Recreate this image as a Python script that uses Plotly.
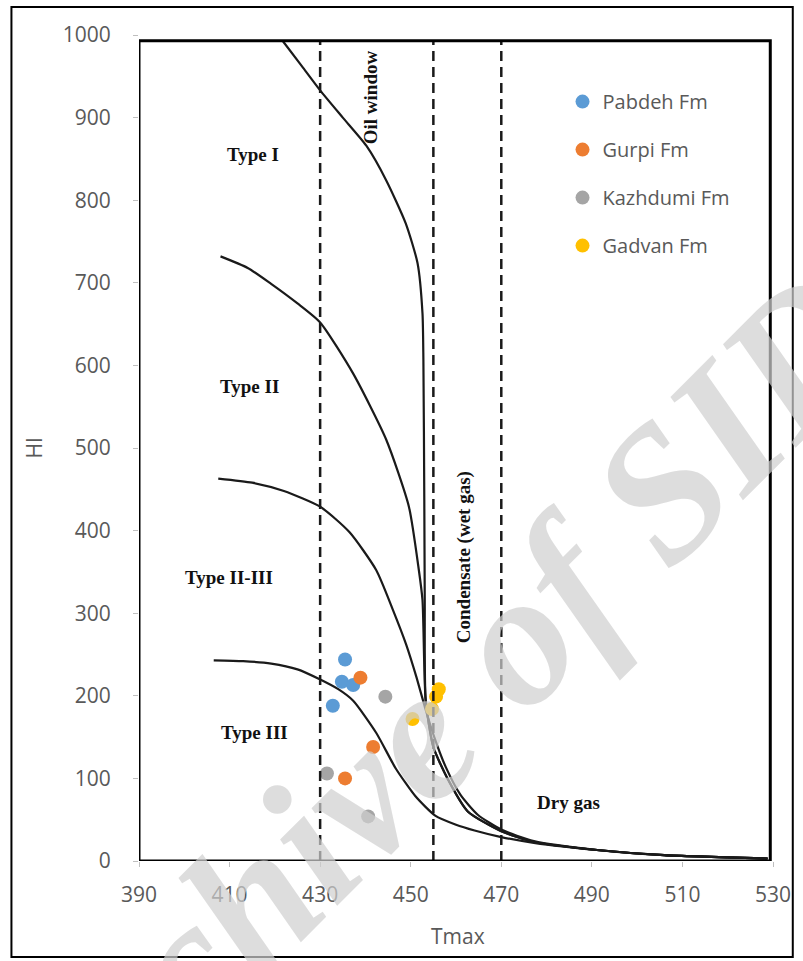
import plotly.graph_objects as go

# Kerogen-type boundary curves (Tmax, HI)
type1_tmax = [421.7, 426.0, 430.0, 435.0, 440.2, 444.6, 448.9, 451.5, 452.6, 452.8, 453.0, 453.1, 453.3, 455.0, 458.3, 462.6, 470.0, 477.2, 491.7, 506.0, 528.8]
type1_hi = [993, 962, 933, 900, 866, 824, 772, 724, 663, 607, 437, 316, 195, 138, 98, 60, 36, 23, 13, 7, 3]

type2_tmax = [408.0, 414.0, 419.1, 425.0, 430.0, 437.3, 444.6, 449.6, 451.8, 452.6, 453.3, 455.0, 458.3, 462.6, 470.0, 477.2, 491.7, 506.0, 528.8]
type2_hi = [732, 718, 699, 675, 652, 590, 510, 429, 352, 316, 195, 138, 98, 60, 36, 23, 13, 7, 3]

type23_tmax = [407.5, 415.0, 422.0, 430.0, 436.5, 442.4, 446.0, 449.0, 451.3, 453.2, 455.2, 457.8, 461.0, 464.8, 470.0, 477.2, 491.7, 506.0, 528.8]
type23_hi = [463, 458, 448, 429, 398, 352, 305, 262, 222, 185, 150, 113, 80, 56, 38, 24, 13, 7, 3]

type3_tmax = [406.5, 413.0, 419.2, 425.0, 429.9, 434.0, 437.3, 442.4, 446.7, 451.1, 455.4, 460.0, 464.1, 470.0, 477.2, 491.7, 506.0, 528.8]
type3_hi = [243, 242, 239, 232, 220, 208, 194, 155, 112, 78, 55, 44, 37, 29, 22, 13, 7, 3]

# Maturity boundaries (Tmax)
zone_limits = [430, 455, 470]

# Samples by formation
pabdeh_tmax = [435.5, 434.8, 437.3, 432.8]
pabdeh_hi = [244, 217, 213, 188]
gurpi_tmax = [438.9, 441.7, 435.5]
gurpi_hi = [222, 138, 100]
kazhdumi_tmax = [444.4, 431.5, 440.6]
kazhdumi_hi = [199, 106, 54]
gadvan_tmax = [450.4, 454.7, 455.6, 456.2]
gadvan_hi = [172, 184, 199, 208]

x_ticks = [390, 410, 430, 450, 470, 490, 510, 530]
y_ticks = [0, 100, 200, 300, 400, 500, 600, 700, 800, 900, 1000]

fig = go.Figure()

for xs, ys in [(type1_tmax, type1_hi), (type2_tmax, type2_hi),
               (type23_tmax, type23_hi), (type3_tmax, type3_hi)]:
    fig.add_trace(go.Scatter(x=xs, y=ys, mode="lines", showlegend=False,
                             hoverinfo="skip",
                             line=dict(color="#1a1a1a", width=2.2, shape="spline", smoothing=0.6)))

series = [
    ("Pabdeh Fm", pabdeh_tmax, pabdeh_hi, "#5B9BD5"),
    ("Gurpi Fm", gurpi_tmax, gurpi_hi, "#ED7D31"),
    ("Kazhdumi Fm", kazhdumi_tmax, kazhdumi_hi, "#A5A5A5"),
    ("Gadvan Fm", gadvan_tmax, gadvan_hi, "#FFC000"),
]
for name, xs, ys, col in series:
    fig.add_trace(go.Scatter(x=xs, y=ys, mode="markers", name=name, legendgroup=name,
                             marker=dict(color=col, size=14, line=dict(width=0))))

shapes = []
for t in zone_limits:
    shapes.append(dict(type="line", xref="x", yref="y", x0=t, x1=t, y0=0, y1=993,
                       line=dict(color="#1a1a1a", width=2.5, dash="10px,6px")))
# plot frame
shapes.append(dict(type="rect", xref="x", yref="y", x0=390, x1=529.4, y0=0, y1=993,
                   line=dict(color="black", width=3)))
# outer border
shapes.append(dict(type="rect", xref="paper", yref="paper", x0=-0.2012, x1=1.0312,
                   y0=-0.1162, y1=1.0339, line=dict(color="black", width=2)))

serif = dict(family="Liberation Serif", size=19, color="#111111")
annotations = [
    dict(x=415.2, y=855, text="<b>Type I</b>"),
    dict(x=414.3, y=574, text="<b>Type II</b>"),
    dict(x=409.8, y=343, text="<b>Type II-III</b>"),
    dict(x=415.4, y=155, text="<b>Type III</b>"),
    dict(x=484.8, y=71, text="<b>Dry gas</b>"),
    dict(x=441.3, y=925, text="<b>Oil window</b>", textangle=-90),
    dict(x=461.8, y=368, text="<b>Condensate (wet gas)</b>", textangle=-90),
]
for a in annotations:
    a.update(xref="x", yref="y", showarrow=False, font=serif)

annotations.append(dict(xref="paper", yref="paper", x=-0.165, y=0.5, text="HI",
                        textangle=-90, showarrow=False, xanchor="center", yanchor="middle",
                        font=dict(family="Open Sans", size=21, color="#595959")))
annotations.append(dict(xref="x", yref="paper", x=460.5, y=-0.0908, text="Tmax",
                        showarrow=False, xanchor="center", yanchor="middle",
                        font=dict(family="Open Sans", size=21, color="#595959")))
annotations.append(dict(xref="paper", yref="paper", x=0.454, y=0.163,
                        text="<b><i>Archive of SID</i></b>", textangle=-45,
                        showarrow=False, opacity=0.7, xanchor="center", yanchor="middle",
                        font=dict(family="Liberation Serif", size=190, color="#d0d0d0")))

fig.update_layout(
    width=803, height=961,
    margin=dict(l=139, r=23, t=35, b=100),
    plot_bgcolor="white", paper_bgcolor="white",
    shapes=shapes, annotations=annotations,
    legend=dict(x=0.668, y=0.943, xanchor="left", yanchor="top",
                bgcolor="rgba(0,0,0,0)", tracegroupgap=19,
                font=dict(family="Open Sans", size=20, color="#595959")),
    xaxis=dict(range=[390, 530], tickvals=x_ticks, showgrid=False, zeroline=False,
               showline=False, ticks="outside", ticklen=5, tickcolor="#bfbfbf",
               ticklabelstandoff=10,
               tickfont=dict(family="Open Sans", size=21, color="#595959")),
    yaxis=dict(range=[0, 1000], tickvals=y_ticks, showgrid=False, zeroline=False,
               showline=False, ticks="outside", ticklen=5, tickcolor="#bfbfbf",
               ticklabelstandoff=18,
               tickfont=dict(family="Open Sans", size=21, color="#595959")),
)

fig.write_html("out.html")
